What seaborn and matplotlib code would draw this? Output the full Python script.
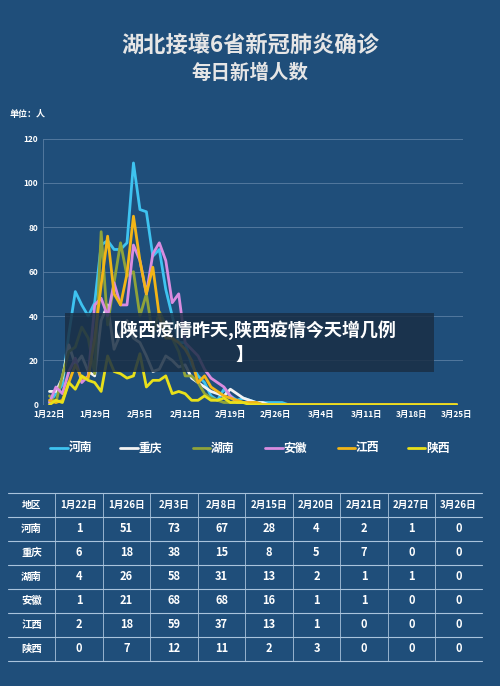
import numpy as np
import pandas as pd
import matplotlib
matplotlib.use("Agg")
import matplotlib.pyplot as plt
import seaborn as sns

sns.set_style("dark")
plt.rcParams['font.family'] = ['Noto Sans CJK SC', 'DejaVu Sans']

BG = "#1f4e7a"
provinces = ["河南", "重庆", "湖南", "安徽", "江西", "陕西"]
colors = ["#3ec3f0", "#f2f2f2", "#8fa33a", "#d98ce0", "#f2b517", "#e8e01a"]

henan = [1,5,9,32,51,45,40,46,72,74,70,70,73,109,88,87,67,70,52,40,28,28,18,13,10,4,2,7,4,2,3,2,1,1,1,1,1]
chongqing = [6,6,12,27,18,22,15,13,38,45,25,32,38,30,28,22,15,16,22,20,17,18,12,10,8,6,5,4,7,5,3,2,1,1]
hunan = [4,1,13,24,26,35,30,14,78,36,55,73,58,60,40,50,31,42,36,30,24,13,13,10,5,3,2,1,1,2,1,1,1]
anhui = [1,8,5,15,21,10,13,45,48,40,55,45,45,72,65,50,68,73,65,46,50,28,25,22,16,12,10,8,4,1,1,1]
jiangxi = [2,1,2,10,18,12,12,30,54,76,50,45,59,85,65,50,62,40,30,30,28,25,20,10,13,8,6,4,3,2,1,1,1]
shaanxi = [0,2,1,10,7,13,11,10,6,22,15,14,12,13,23,8,11,11,13,5,6,5,2,2,4,2,2,3,1,1,1]
series = [henan, chongqing, hunan, anhui, jiangxi, shaanxi]
ndays = 64
tick_labels = ["1月22日","1月29日","2月5日","2月12日","2月19日","2月26日","3月4日","3月11日","3月18日","3月25日"]

table_cols = ["地区","1月22日","1月26日","2月3日","2月8日","2月15日","2月20日","2月21日","2月27日","3月26日"]
table_vals = [
    [1,51,73,67,28,4,2,1,0],
    [6,18,38,15,8,5,7,0,0],
    [4,26,58,31,13,2,1,1,0],
    [1,21,68,68,16,1,1,0,0],
    [2,18,59,37,13,1,0,0,0],
    [0,7,12,11,2,3,0,0,0],
]

rows = []
for p, s in zip(provinces, series):
    vals = list(s) + [0] * (ndays - len(s))
    for d, v in enumerate(vals):
        rows.append({"day": d, "value": v, "province": p})
df = pd.DataFrame(rows)

fig = plt.figure(figsize=(5, 6.86), dpi=100)
fig.patch.set_facecolor(BG)

fig.text(0.5, 0.925, "湖北接壤6省新冠肺炎确诊", color="#e6e6e6", fontsize=16, fontweight="bold", ha="center")
fig.text(0.5, 0.885, "每日新增人数", color="#e6e6e6", fontsize=14, fontweight="bold", ha="center")
fig.text(0.02, 0.83, "单位：人", color="white", fontsize=6.5, fontweight="bold")

ax = fig.add_axes([0.086, 0.41, 0.84, 0.388])
ax.set_facecolor(BG)
sns.lineplot(data=df, x="day", y="value", hue="province", palette=colors,
             hue_order=provinces, linewidth=2, ax=ax, legend=False)
ax.set_ylim(0, 120)
ax.set_xlim(-1, 64)
ax.set_yticks(range(0, 121, 20))
ax.set_xticks(range(0, 64, 7))
ax.set_xticklabels(tick_labels)
ax.tick_params(colors="white", labelsize=6, length=0)
for lab in ax.get_xticklabels() + ax.get_yticklabels():
    lab.set_fontweight("bold")
ax.grid(axis="y", color="#5a7fa3", linewidth=0.6)
ax.grid(axis="x", visible=False)
ax.set_xlabel(""); ax.set_ylabel("")
for sp in ax.spines.values():
    sp.set_visible(False)
ax.axvline(-1, color="#5a7fa3", lw=0.6)

# legend
lx = [0.10, 0.24, 0.385, 0.53, 0.675, 0.815]
for x, p, c in zip(lx, provinces, colors):
    fig.lines.append(plt.Line2D([x, x + 0.035], [0.347, 0.347], color=c, lw=2, transform=fig.transFigure))
    fig.text(x + 0.037, 0.347, p, color="white", fontsize=8.5, fontweight="bold", va="center")

# overlay banner
fig.patches.append(plt.Rectangle((0.13, 0.457), 0.737, 0.087, transform=fig.transFigure,
                                 facecolor="#1a2f45", alpha=0.85, edgecolor="none"))
fig.text(0.497, 0.519, "【陕西疫情昨天,陕西疫情今天增几例", color="white", fontsize=13,
         fontweight="bold", ha="center", va="center")
fig.text(0.49, 0.483, "】", color="white", fontsize=13, fontweight="bold", ha="center", va="center")

# table
tax = fig.add_axes([0, 0, 1, 1], facecolor="none")
tax.set_xlim(0, 500); tax.set_ylim(686, 0); tax.axis("off")
xb = [8, 55, 103, 150, 198, 245, 293, 340, 388, 435, 482]
yb = [493, 517, 541, 565, 589, 613, 637, 661]
for y in yb:
    tax.plot([xb[0], xb[-1]], [y, y], color="#a9c3dc", lw=0.8)
for x in xb[1:-1]:
    tax.plot([x, x], [yb[0], yb[-1]], color="#a9c3dc", lw=0.6)
for j, h in enumerate(table_cols):
    tax.text((xb[j] + xb[j+1]) / 2, (yb[0] + yb[1]) / 2, h, color="white", fontsize=7,
             fontweight="bold", ha="center", va="center")
for i, (p, r) in enumerate(zip(provinces, table_vals)):
    yc = (yb[i+1] + yb[i+2]) / 2
    tax.text((xb[0] + xb[1]) / 2, yc, p, color="white", fontsize=7.5, fontweight="bold", ha="center", va="center")
    for j, v in enumerate(r):
        tax.text((xb[j+1] + xb[j+2]) / 2, yc, str(v), color="white", fontsize=8, fontweight="bold",
                 ha="center", va="center")

fig.savefig("out.png", dpi=100, facecolor=BG)
